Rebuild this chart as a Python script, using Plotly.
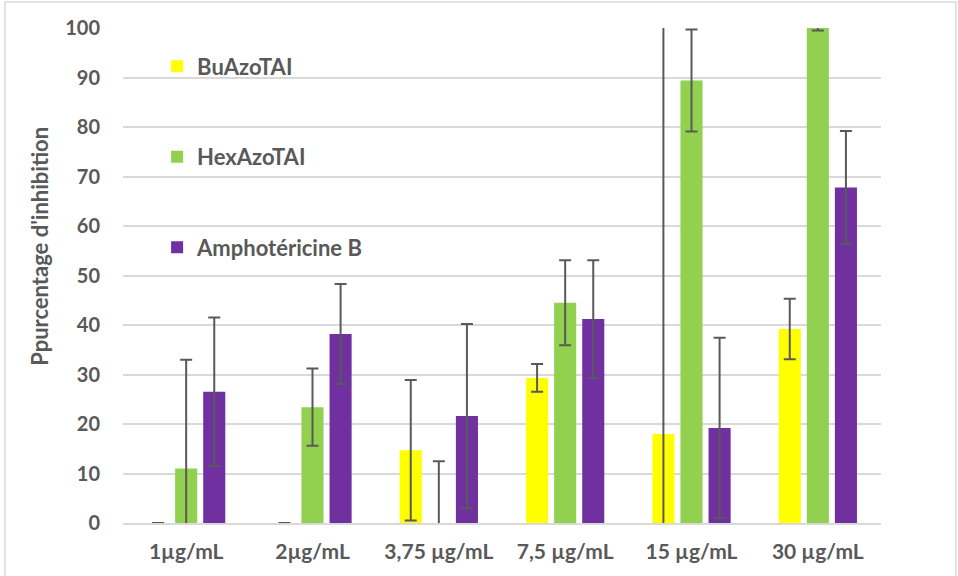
import plotly.graph_objects as go

# Concentrations tested
categories = ["1µg/mL", "2µg/mL", "3,75 µg/mL", "7,5 µg/mL", "15 µg/mL", "30 µg/mL"]

# Mean inhibition (%) and standard deviations per compound
bu_values = [0, 0, 14.7, 29.3, 18.0, 39.2]
bu_errors = [0, 0, 14.2, 2.8, 85.0, 6.1]

hex_values = [11.0, 23.4, 0, 44.5, 89.4, 100.0]
hex_errors = [22.0, 7.8, 12.5, 8.6, 10.3, 0.5]

ampho_values = [26.5, 38.2, 21.6, 41.2, 19.2, 67.8]
ampho_errors = [15.0, 10.1, 18.6, 11.9, 18.2, 11.4]

series_names = ["BuAzoTAI", "HexAzoTAI", "Amphotéricine B"]
series_colors = ["#FFFF00", "#92D050", "#7030A0"]

TEXT = "#595959"
FONT = "Lato"

fig = go.Figure()
for name, vals, errs, color in zip(
    series_names,
    [bu_values, hex_values, ampho_values],
    [bu_errors, hex_errors, ampho_errors],
    series_colors,
):
    fig.add_trace(go.Bar(
        name=name,
        x=categories,
        y=vals,
        marker=dict(color=color, line=dict(width=0)),
        error_y=dict(type="data", array=errs, visible=True,
                     color=TEXT, thickness=2, width=6),
        legendgroup=name,
    ))

fig.update_layout(
    width=958, height=576,
    margin=dict(l=123, r=77, t=28, b=53),
    paper_bgcolor="white", plot_bgcolor="white",
    barmode="group", bargap=0.333, bargroupgap=0.214,
    font=dict(family=FONT, color=TEXT, size=20),
    legend=dict(
        x=0.045, y=0.965, xanchor="left", yanchor="top",
        bgcolor="rgba(0,0,0,0)", tracegroupgap=59,
        traceorder="grouped",
        font=dict(family=FONT, size=22, color=TEXT, weight="bold"),
    ),
    showlegend=True,
)

fig.update_yaxes(
    range=[0, 100], dtick=10,
    showgrid=True, gridcolor="#D9D9D9", gridwidth=1.5,
    zeroline=False, showline=False,
    tickfont=dict(family=FONT, size=20, color=TEXT, weight="bold"),
    ticklabelstandoff=22,
)
fig.update_xaxes(
    showgrid=False, showline=True, linecolor="#D9D9D9", linewidth=1.5,
    tickfont=dict(family=FONT, size=21, color=TEXT, weight="bold"),
    ticklabelstandoff=9,
)

# Vertical axis title, placed slightly above the plot's midpoint
fig.add_annotation(
    text="Ppurcentage d'inhibition", textangle=-90,
    xref="paper", yref="paper", x=-0.1095, y=0.56,
    xanchor="center", yanchor="middle", showarrow=False,
    font=dict(family=FONT, size=22, color=TEXT, weight="bold"),
)

# Light frame around the whole chart area
fig.add_shape(type="rect", xref="paper", yref="paper",
              x0=-0.1557, x1=1.099, y0=-0.115, y1=1.0525,
              line=dict(color="#D9D9D9", width=1.5), layer="below")

fig.write_html("out.html")
